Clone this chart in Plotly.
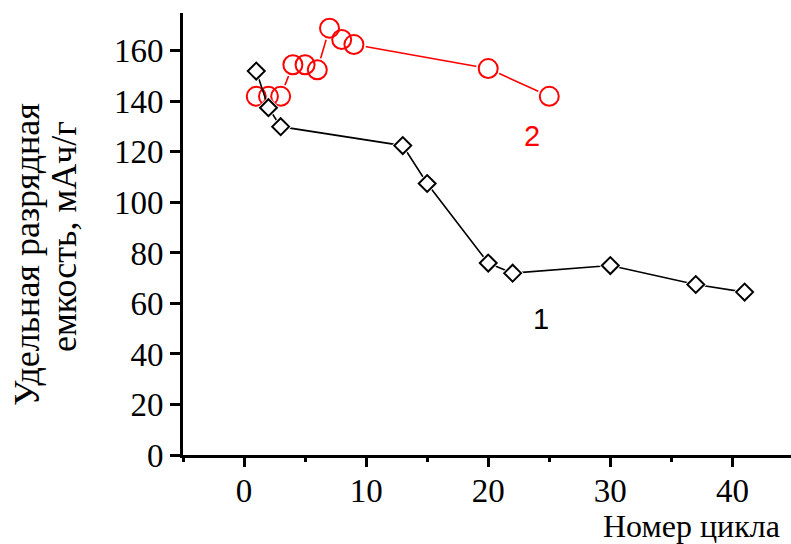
import plotly.graph_objects as go

# Cycle number vs specific discharge capacity, two samples
cycles_1 = [1, 2, 3, 13, 15, 20, 22, 30, 37, 41]
capacity_1 = [152, 137.5, 130, 122.5, 107.5, 76, 72, 75, 67.5, 64.5]

cycles_2 = [1, 2, 3, 4, 5, 6, 7, 8, 9, 20, 25]
capacity_2 = [142, 142, 142, 154.5, 154.5, 152.5, 169, 164.5, 162.5, 153, 142]

x_ticks = [0, 10, 20, 30, 40]
y_ticks = [0, 20, 40, 60, 80, 100, 120, 140, 160]

W, H = 791, 544
ML, MR, MT, MB = 183, 0, 13, 89
PW = W - ML - MR
PH = H - MT - MB

SERIF = "Liberation Serif"
SANS = "Liberation Sans"

fig = go.Figure()


def add_series(x, y, color, symbol, size, mask_size):
    # connecting line
    fig.add_trace(go.Scatter(x=x, y=y, mode="lines",
                             line=dict(color=color, width=1.6),
                             hoverinfo="skip", showlegend=False))
    # white halo so the line stops short of each marker
    fig.add_trace(go.Scatter(x=x, y=y, mode="markers",
                             marker=dict(symbol=symbol, size=mask_size,
                                         color="white", line=dict(width=0)),
                             hoverinfo="skip", showlegend=False))
    # hollow markers
    fig.add_trace(go.Scatter(x=x, y=y, mode="markers",
                             marker=dict(symbol=symbol + "-open", size=size,
                                         color=color,
                                         line=dict(color=color, width=2)),
                             showlegend=False))


add_series(cycles_2, capacity_2, "#ff0000", "circle", 19, 24)
add_series(cycles_1, capacity_1, "#000000", "diamond", 13, 17)

TICKFONT = dict(family=SERIF, size=33, color="black")

fig.update_xaxes(
    range=[-5, 44.8], domain=[0, 1],
    tickvals=x_ticks, ticktext=[str(v) for v in x_ticks],
    showline=True, linewidth=3, linecolor="black",
    ticks="outside", ticklen=9, tickwidth=3, tickcolor="black",
    minor=dict(dtick=5, tick0=0, ticks="outside", ticklen=4,
               tickwidth=3, tickcolor="black"),
    showgrid=False, zeroline=False,
    tickfont=TICKFONT, ticklabelstandoff=-5,
)
fig.update_yaxes(
    range=[0, 175],
    tickvals=y_ticks, ticktext=[str(v) for v in y_ticks],
    showline=True, linewidth=3, linecolor="black",
    ticks="outside", ticklen=10, tickwidth=3, tickcolor="black",
    showgrid=False, zeroline=False,
    tickfont=TICKFONT,
)

annotations = [
    # y-axis title, two rotated lines
    dict(text="Удельная разрядная", xref="paper", yref="paper",
         x=0, y=(H - MB - 255) / PH, xshift=27 - ML,
         xanchor="center", yanchor="middle", textangle=-90,
         showarrow=False, font=dict(family=SERIF, size=36, color="black")),
    dict(text="емкость, мАч/г", xref="paper", yref="paper",
         x=0, y=(H - MB - 237) / PH, xshift=64 - ML,
         xanchor="center", yanchor="middle", textangle=-90,
         showarrow=False, font=dict(family=SERIF, size=36, color="black")),
    # x-axis title
    dict(text="Номер цикла", xref="paper", yref="paper",
         x=1, y=(H - MB - 526) / PH, xshift=-9,
         xanchor="right", yanchor="middle",
         showarrow=False, font=dict(family=SERIF, size=32, color="black")),
    # curve labels
    dict(text="1", x=24.3, y=54, xref="x", yref="y", showarrow=False,
         font=dict(family=SANS, size=29, color="black")),
    dict(text="2", x=23.6, y=126.5, xref="x", yref="y", showarrow=False,
         font=dict(family=SANS, size=29, color="#ff0000")),
]

fig.update_layout(
    width=W, height=H,
    margin=dict(l=ML, r=MR, t=MT, b=MB, pad=0),
    paper_bgcolor="white", plot_bgcolor="white",
    font=dict(family=SERIF, size=33, color="black"),
    annotations=annotations,
    showlegend=False,
)

fig.write_html("out.html")
